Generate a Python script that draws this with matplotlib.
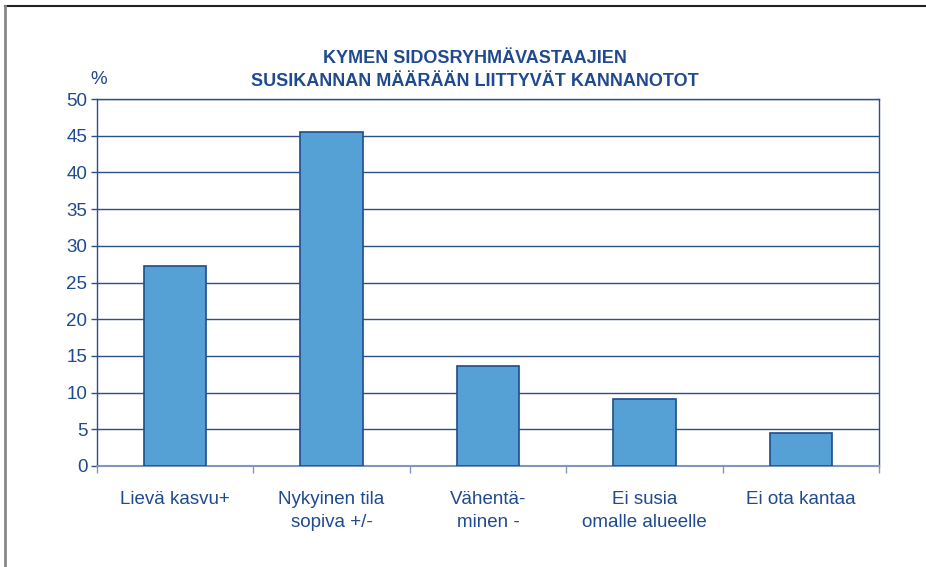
import matplotlib
matplotlib.use("Agg")
import matplotlib.pyplot as plt
from matplotlib.lines import Line2D
import numpy as np

categories = ["Lievä kasvu+", "Nykyinen tila\nsopiva +/-", "Vähentä-\nminen -", "Ei susia\nomalle alueelle", "Ei ota kantaa"]
values = [27.3, 45.5, 13.6, 9.1, 4.5]
yticks = [0, 5, 10, 15, 20, 25, 30, 35, 40, 45, 50]
title = "KYMEN SIDOSRYHMÄVASTAAJIEN\nSUSIKANNAN MÄÄRÄÄN LIITTYVÄT KANNANOTOT"

plt.rcParams['font.family'] = ['Liberation Sans', 'DejaVu Sans']
TXT = "#1F4A8F"
GRID = "#2B4F8C"
BAR = "#55A1D6"
EDGE = "#1E4C8A"

fig = plt.figure(figsize=(9.26, 5.67), dpi=100)
ax = fig.add_axes([97/926, 1-466/567, (879-97)/926, (466-99)/567])

x = np.arange(len(categories))
ax.bar(x, values, width=0.4, color=BAR, edgecolor=EDGE, linewidth=1.2, zorder=3)
ax.set_xlim(-0.5, len(categories)-0.5)
ax.set_ylim(0, 50)
ax.set_yticks(yticks)
ax.set_yticklabels([str(t) for t in yticks], fontsize=13.5, color=TXT)
ax.yaxis.grid(True, color=GRID, linewidth=1.0, zorder=0)
ax.tick_params(axis='y', length=4, color=GRID, width=1, pad=3)

ax.set_xticks(np.arange(-0.5, len(categories)), minor=False)
ax.set_xticklabels([])
ax.tick_params(axis='x', length=5, color="#8096BE", width=1)
for i, c in enumerate(categories):
    ax.text(i, -3.4, c, ha='center', va='top', fontsize=13.5, color=TXT, linespacing=1.45)

for s in ['left', 'right', 'top']:
    ax.spines[s].set_color(GRID)
    ax.spines[s].set_linewidth(1.0)
ax.spines['bottom'].set_color("#8096BE")
ax.spines['bottom'].set_linewidth(1.5)

fig.text(475/926, 1-70/567, title, ha='center', va='center', fontsize=13, fontweight='bold', color=TXT, linespacing=1.5)
fig.text(99/926, 1-80/567, "%", ha='center', va='center', fontsize=13.5, color=TXT)

fig.add_artist(Line2D([5/926, 1], [1-6/567, 1-6/567], color="#222222", linewidth=1.5, transform=fig.transFigure))
fig.add_artist(Line2D([5/926, 5/926], [0, 1-6/567], color="#888888", linewidth=2, transform=fig.transFigure))

fig.savefig("out.png", dpi=100)
